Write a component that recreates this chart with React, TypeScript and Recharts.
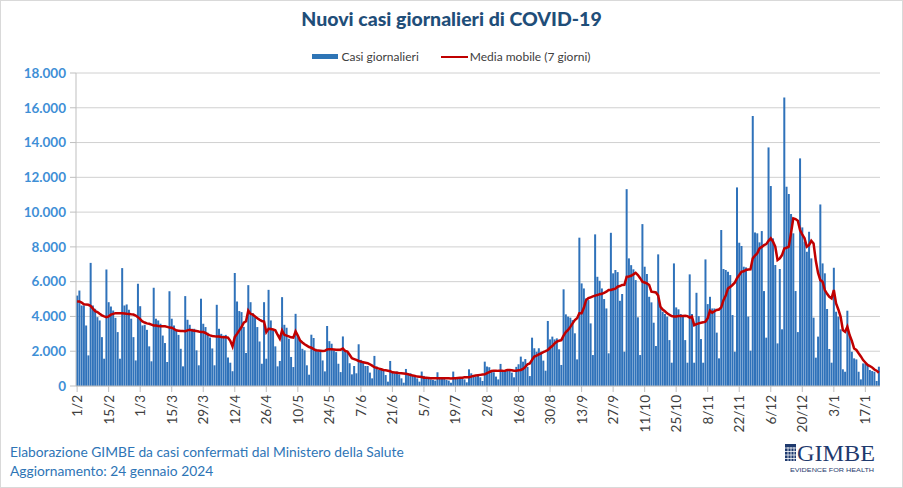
import React from 'react';
import { ComposedChart, Bar, Line, XAxis, YAxis, CartesianGrid, Legend } from 'recharts';

// casi giornalieri, una riga per settimana (mer -> mar), dal 1/2/2023 al 23/1/2024
const casiGiornalieri = [
  5200, 5490, 4630, 4630, 3480, 1760, 7080,
  4630, 4440, 3960, 3770, 2810, 1570, 6700,
  4820, 4570, 4340, 3920, 3100, 1570, 6780,
  4630, 4690, 4380, 3870, 2810, 1470, 5880,
  4590, 3480, 3520, 3230, 2280, 1420, 5650,
  3870, 3770, 3580, 2900, 2470, 1380, 5450,
  3870, 3480, 3230, 2940, 2140, 1130, 5170,
  3810, 3520, 3290, 3290, 2050, 1190, 5020,
  3580, 3390, 3060, 2790, 2160, 1190, 4670,
  3290, 3000, 2900, 2940, 1640, 1340, 850,
  6500, 4860, 4310, 4250, 3400, 1900, 5800,
  4820, 4190, 3960, 3390, 2560, 1280, 4820,
  1570, 5530, 3770, 3200, 2280, 1130, 1440,
  5110, 3520, 3350, 2720, 1670, 1090, 4150,
  2810, 2660, 2140, 2050, 1190, 650, 2950,
  2760, 2140, 2000, 2050, 1470, 840, 3450,
  2580, 2430, 2050, 1950, 1280, 800, 2850,
  2020, 1920, 1310, 670, 1150, 730, 2400,
  1500, 1350, 1150, 1150, 770, 440, 1730,
  1120, 920, 960, 920, 630, 250, 1440,
  830, 730, 830, 670, 440, 190, 980,
  690, 730, 630, 630, 440, 250, 830,
  580, 500, 500, 380, 350, 310, 790,
  440, 440, 440, 350, 310, 190, 830,
  440, 500, 440, 500, 380, 210, 960,
  730, 580, 540, 580, 500, 290, 1400,
  1120, 1080, 920, 790, 540, 380, 1270,
  860, 860, 960, 960, 770, 500, 1100,
  1250, 1690, 1400, 1550, 1100, 570, 2780,
  2170, 1970, 2170, 1970, 1460, 880, 3740,
  2680, 2840, 2680, 2740, 2110, 1210, 5560,
  4120, 3990, 3930, 3790, 3030, 1530, 8530,
  5900, 5610, 5040, 4940, 3600, 1780, 8720,
  6280, 6050, 5610, 5000, 4460, 1880, 8810,
  6480, 6670, 6550, 4900, 5290, 1970, 11320,
  7340, 6950, 6710, 6090, 3950, 1780, 9310,
  6860, 6440, 5130, 4810, 3640, 2300, 7570,
  4560, 4270, 4140, 3990, 2640, 1340, 7050,
  4520, 4410, 4140, 4080, 2640, 1340, 6420,
  4140, 1340, 5360, 4020, 2700, 1340, 7280,
  4710, 5130, 4460, 4460, 3070, 1590, 8970,
  6730, 6670, 6570, 6380, 4080, 1970, 11420,
  8240, 8050, 6860, 6820, 3990, 2030, 15520,
  8830, 8780, 8260, 8910, 5460, 2780, 13720,
  11500, 8490, 6960, 2450, 6730, 3260, 16590,
  11460, 11040, 9890, 8780, 5460, 3100, 13090,
  9120, 8300, 7720, 8870, 7340, 3930, 1630,
  2840, 10440, 7050, 6480, 4430, 2130, 1340,
  6800, 4270, 3990, 3260, 960, 820, 4330,
  2900, 1970, 1590, 1530, 820, 380, 1300,
  1300, 1210, 920, 860, 820, 290, 1110,
];

const mediaMobile = [
  4860, 4860, 4800, 4700, 4680, 4670, 4600,
  4450, 4300, 4250, 4150, 4060, 4000, 3960,
  4000, 4100, 4150, 4190, 4190, 4190, 4190,
  4170, 4150, 4140, 4120, 4110, 4050, 3960,
  3850, 3710, 3650, 3600, 3580, 3530, 3480,
  3480, 3450, 3430, 3430, 3430, 3400, 3360,
  3350, 3280, 3200, 3180, 3160, 3160, 3150,
  3200, 3230, 3200, 3180, 3160, 3130, 3110,
  3100, 3050, 2970, 2910, 2880, 2860, 2850,
  2840, 2820, 2810, 2800, 2780, 2600, 2280,
  2810, 3000, 3200, 3390, 3640, 3720, 4340,
  4150, 4100, 4000, 3900, 3810, 3740, 3710,
  3100, 3290, 3280, 3250, 3200, 2950, 2720,
  3200, 2950, 2900, 2850, 2800, 2780, 3140,
  2900, 2620, 2500, 2400, 2320, 2240, 2200,
  2120, 2050, 2040, 2030, 2010, 2020, 2100,
  2120, 2110, 2100, 2090, 2090, 2090, 2150,
  2020, 1980, 1800, 1600, 1550, 1500, 1440,
  1400, 1370, 1340, 1310, 1250, 1170, 1080,
  1040, 1000, 960, 920, 900, 880, 850,
  790, 780, 760, 740, 730, 720, 700,
  680, 630, 610, 580, 540, 530, 520,
  480, 470, 460, 450, 440, 440, 440,
  440, 440, 440, 440, 440, 430, 440,
  450, 460, 470, 480, 500, 500, 500,
  540, 580, 600, 620, 640, 660, 670,
  740, 800, 860, 880, 880, 870, 870,
  870, 880, 920, 920, 900, 880, 880,
  900, 920, 980, 1100, 1250, 1300, 1500,
  1690, 1750, 1820, 1880, 1950, 2000, 2070,
  2200, 2300, 2450, 2550, 2600, 2640, 2900,
  3100, 3220, 3400, 3600, 3790, 3900, 4180,
  4180, 4500, 4940, 5050, 5100, 5150, 5200,
  5230, 5280, 5300, 5360, 5420, 5520, 5520,
  5560, 5600, 5710, 5750, 5810, 5820, 6280,
  6300, 6340, 6420, 6510, 6380, 6200, 6000,
  5950, 5900, 5810, 5420, 5400, 5380, 5200,
  4560, 4400, 4300, 4180, 4100, 4020, 4000,
  4000, 4020, 4020, 4030, 4040, 4020, 3940,
  3990, 3500, 3560, 3600, 3640, 3660, 3700,
  3900, 4330, 4220, 4300, 4370, 4400, 4520,
  4940, 5200, 5610, 5700, 5810, 5940, 6200,
  6380, 6570, 6600, 6670, 6700, 6710, 7340,
  7500, 7630, 7910, 8000, 8100, 8160, 8350,
  8490, 8300, 8010, 7240, 7340, 7530, 7910,
  7950, 8010, 8800, 9640, 9600, 9500, 8970,
  8700, 8490, 8010, 8100, 8350, 8200, 7200,
  6500, 6090, 6000, 5520, 5300, 5130, 5040,
  5520, 4750, 4400, 3990, 3220, 3120, 3410,
  2930, 2600, 2160, 2070, 1880, 1700, 1490,
  1350, 1210, 1150, 1070, 950, 880, 760,
];

const yTicks = [0, 2000, 4000, 6000, 8000, 10000, 12000, 14000, 16000, 18000];

// etichette giorno/mese a partire dal 1 febbraio 2023
const giorni = casiGiornalieri.map((_, i) => {
  const d = new Date(2023, 1, 1 + i);
  return `${d.getDate()}/${d.getMonth() + 1}`;
});

const data = giorni.map((g, i) => ({ giorno: g, casi: casiGiornalieri[i], media: mediaMobile[i] }));

const formatMigliaia = (v: number) => v.toString().replace(/\B(?=(\d{3})+(?!\d))/g, '.');

const DateTick = (props: any) => {
  const { x, y, payload } = props;
  return (
    <text
      transform={`translate(${x + 5},${y + 1}) rotate(-90)`}
      textAnchor="end"
      fontSize={13.5}
      fill="#404040"
      fontFamily="Lato"
    >
      {payload.value}
    </text>
  );
};

const renderLegend = () => (
  <div style={{ display: 'flex', justifyContent: 'center', alignItems: 'center', fontFamily: 'Lato', fontSize: 12, color: '#404040' }}>
    <span style={{ display: 'inline-block', width: 26, height: 5, background: '#2E75B6', marginRight: 3 }} />
    <span style={{ marginRight: 22 }}>Casi giornalieri</span>
    <span style={{ display: 'inline-block', width: 27, height: 2, background: '#C00000', marginRight: 2 }} />
    <span>Media mobile (7 giorni)</span>
  </div>
);

export default function App() {
  return (
    <div style={{ position: 'fixed', left: 0, top: 0, width: 903, height: 488, background: '#fff' }}>
      <div
        style={{
          position: 'absolute', top: 7, left: 0, width: 903, textAlign: 'center',
          fontFamily: 'Lato', fontWeight: 900, fontSize: 19.5, color: '#1F4E79',
        }}
      >
        Nuovi casi giornalieri di COVID-19
      </div>
      <ComposedChart
        width={903}
        height={488}
        data={data}
        margin={{ top: 73, right: 23, bottom: 0, left: 0 }}
        barCategoryGap="6%"
      >
        <CartesianGrid vertical={false} stroke="#d0d0d0" />
        <XAxis
          dataKey="giorno"
          interval={13}
          height={102}
          tick={<DateTick />}
          tickSize={6}
          axisLine={{ stroke: '#bfbfbf' }}
          tickLine={{ stroke: '#bfbfbf' }}
        />
        <YAxis
          domain={[0, 18000]}
          ticks={yTicks}
          width={76}
          tickFormatter={formatMigliaia}
          tickSize={6}
          tickMargin={4}
          axisLine={{ stroke: '#bfbfbf' }}
          tickLine={{ stroke: '#bfbfbf' }}
          tick={{ fill: '#3F8FD6', fontWeight: 'bold', fontSize: 13.5, fontFamily: 'Lato' }}
        />
        <Legend
          verticalAlign="middle"
          content={renderLegend}
          wrapperStyle={{ top: 49, left: 0, width: 903 }}
        />
        <Bar dataKey="casi" name="Casi giornalieri" fill="#2F72BA" isAnimationActive={false} />
        <Line
          dataKey="media"
          name="Media mobile (7 giorni)"
          type="linear"
          stroke="#C00000"
          strokeWidth={2.5}
          dot={false}
          isAnimationActive={false}
        />
      </ComposedChart>
      <div style={{ position: 'absolute', left: 10, top: 442, fontFamily: 'Lato', fontSize: 13.8, color: '#2E75B6', lineHeight: '19px' }}>
        <div>Elaborazione GIMBE da casi confermati dal Ministero della Salute</div>
        <div>Aggiornamento: 24 gennaio 2024</div>
      </div>
      <svg style={{ position: 'absolute', left: 780, top: 436 }} width={100} height={42}>
        <rect x={5} y={8} width={11} height={17} fill="#1F3A6E" />
        {[0, 1, 2, 3].map((r) => (
          <line key={`h${r}`} x1={5} x2={16} y1={12 + r * 3.5} y2={12 + r * 3.5} stroke="#fff" strokeWidth={0.8} />
        ))}
        {[0, 1, 2].map((c) => (
          <line key={`v${c}`} x1={8 + c * 3} x2={8 + c * 3} y1={11} y2={25} stroke="#fff" strokeWidth={0.8} />
        ))}
        <text x={17} y={25} fontFamily="Liberation Serif" fontSize={24} fill="#1F3A6E" textLength={78} lengthAdjust="spacingAndGlyphs">
          GIMBE
        </text>
        <text x={10} y={36} fontFamily="Liberation Sans" fontSize={6} fill="#1F3A6E" textLength={84} lengthAdjust="spacingAndGlyphs">
          EVIDENCE FOR HEALTH
        </text>
      </svg>
      <div style={{ position: 'absolute', inset: 0, border: '1px solid #d9d9d9', pointerEvents: 'none' }} />
    </div>
  );
}
